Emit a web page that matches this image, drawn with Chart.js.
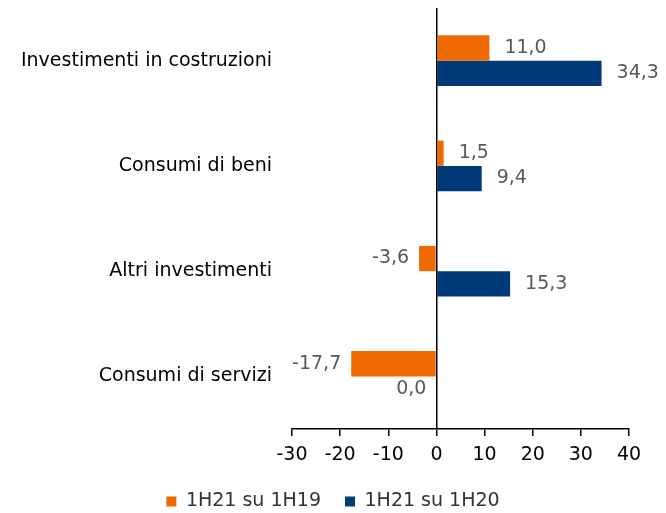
<!DOCTYPE html>
<html lang="it">
<head>
    <meta charset="UTF-8">
    <title>Investimenti e consumi</title>
    <style>
        html, body { margin: 0; padding: 0; background: #fff; }
        .wrap { width: 666px; height: 513px; }
    </style>
</head>
<body>
    <div class="wrap"><canvas id="chart"></canvas></div>

    <script src="https://cdn.jsdelivr.net/npm/chart.js"></script>
    <script>
        // dati
        const categories = ['Investimenti in costruzioni', 'Consumi di beni', 'Altri investimenti', 'Consumi di servizi'];
        const su1H19 = [11.0, 1.5, -3.6, -17.7];
        const su1H20 = [34.3, 9.4, 15.3, 0.0];
        const seriesNames = ['1H21 su 1H19', '1H21 su 1H20'];

        const FONT = "'DejaVu Sans', sans-serif";

        // etichette dei valori accanto alle barre
        const valueLabels = {
            id: 'valueLabels',
            afterDatasetsDraw(chart) {
                const ctx = chart.ctx;
                ctx.save();
                ctx.font = '19px ' + FONT;
                ctx.fillStyle = '#595959';
                ctx.textBaseline = 'middle';
                chart.data.datasets.forEach((ds, i) => {
                    chart.getDatasetMeta(i).data.forEach((bar, j) => {
                        const v = ds.data[j];
                        const txt = v.toFixed(1).replace('.', ',');
                        if (v > 0) {
                            ctx.textAlign = 'left';
                            ctx.fillText(txt, bar.x + 15, bar.y);
                        } else {
                            ctx.textAlign = 'right';
                            ctx.fillText(txt, bar.x - 10, bar.y);
                        }
                    });
                });
                ctx.restore();
            }
        };

        new Chart(document.getElementById('chart'), {
            type: 'bar',
            data: {
                labels: categories,
                datasets: [
                    { label: seriesNames[0], data: su1H19, backgroundColor: '#EE6A00' },
                    { label: seriesNames[1], data: su1H20, backgroundColor: '#003A78' }
                ]
            },
            options: {
                indexAxis: 'y',
                responsive: true,
                maintainAspectRatio: false,
                animation: false,
                categoryPercentage: 0.48,
                barPercentage: 1,
                layout: { padding: { left: 0, right: 0, top: 8, bottom: -8 } },
                scales: {
                    x: {
                        min: -30,
                        max: 40,
                        ticks: { stepSize: 10, color: '#000', font: { family: FONT, size: 19 }, padding: 8 },
                        grid: {
                            color: c => c.tick && c.tick.value === 0 ? '#000' : 'transparent',
                            lineWidth: 1.5,
                            tickColor: '#000',
                            tickLength: 7
                        },
                        border: { display: true, color: '#000', width: 1.5 },
                        afterFit: s => { s.height = 39; s.paddingRight = 37; }
                    },
                    y: {
                        ticks: { color: '#000', font: { family: FONT, size: 19 }, padding: 20 },
                        grid: { display: false, drawTicks: false },
                        border: { display: false },
                        afterFit: s => { s.width = 292; s.paddingTop = 0; s.paddingBottom = 0; }
                    }
                },
                plugins: {
                    legend: {
                        position: 'bottom',
                        labels: {
                            boxWidth: 10,
                            boxHeight: 10,
                            color: '#333',
                            padding: 24,
                            font: { family: FONT, size: 19 }
                        }
                    },
                    tooltip: { enabled: false }
                }
            },
            plugins: [valueLabels]
        });
    </script>
</body>
</html>
